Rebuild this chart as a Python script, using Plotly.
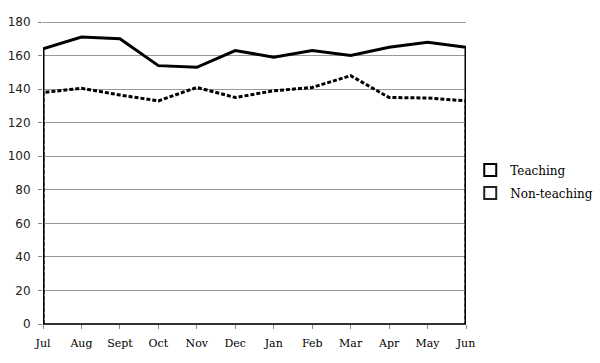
import plotly.graph_objects as go

months = ["Jul", "Aug", "Sept", "Oct", "Nov", "Dec", "Jan", "Feb", "Mar", "Apr", "May", "Jun"]
teaching = [164, 171, 170, 154, 153, 163, 159, 163, 160, 165, 168, 165]
non_teaching = [138, 140.5, 136.5, 133, 141, 135, 139, 141, 148, 135, 134.7, 133]
y_ticks = list(range(0, 181, 20))

def outline(vals):
    # area-chart outline: drop to zero at both ends
    xs = [0] + list(range(len(vals))) + [len(vals) - 1]
    ys = [0] + list(vals) + [0]
    return xs, ys

fig = go.Figure()
xn, yn = outline(non_teaching)
fig.add_trace(go.Scatter(x=xn, y=yn, mode="lines", showlegend=False,
                         line=dict(color="black", width=3, dash="4px,2px")))
xt, yt = outline(teaching)
fig.add_trace(go.Scatter(x=xt, y=yt, mode="lines", showlegend=False,
                         line=dict(color="black", width=3)))

fig.add_trace(go.Scatter(x=[None], y=[None], mode="markers", name="Teaching",
                         legendgroup="a",
                         marker=dict(symbol="square", size=9, color="white",
                                     line=dict(color="black", width=2.5))))
fig.add_trace(go.Scatter(x=[None], y=[None], mode="markers", name="Non-teaching",
                         legendgroup="b",
                         marker=dict(symbol="square", size=9, color="white",
                                     line=dict(color="#222", width=2))))

fig.update_layout(
    width=600, height=363,
    margin=dict(l=43, r=134, t=21, b=39, autoexpand=False),
    paper_bgcolor="white", plot_bgcolor="white",
    hovermode=False,
    legend=dict(x=1.01, y=0.47, xanchor="left", yanchor="middle",
                font=dict(family="DejaVu Serif", size=12, color="black"),
                itemsizing="constant", tracegroupgap=4, itemwidth=30,
                bgcolor="rgba(0,0,0,0)"),
    xaxis=dict(range=[0, len(months) - 1], tickmode="array",
               tickvals=list(range(len(months))), ticktext=months,
               showgrid=False, zeroline=False, showline=False,
               ticks="outside", ticklen=4, tickcolor="#888",
               ticklabelstandoff=5,
               tickfont=dict(family="DejaVu Serif", size=11, color="black")),
    yaxis=dict(range=[0, 180.6], tickvals=y_ticks, showgrid=True,
               gridcolor="#999", gridwidth=1, zeroline=True, zerolinecolor="#333",
               zerolinewidth=2, showline=False, ticks="outside", ticklen=4,
               tickcolor="#888", ticklabelstandoff=5,
               tickfont=dict(family="DejaVu Sans", size=12, color="#222")),
)
fig.write_html("out.html", config={"displayModeBar": False},
               post_script="document.body.style.margin='0';document.body.style.padding='0';")
